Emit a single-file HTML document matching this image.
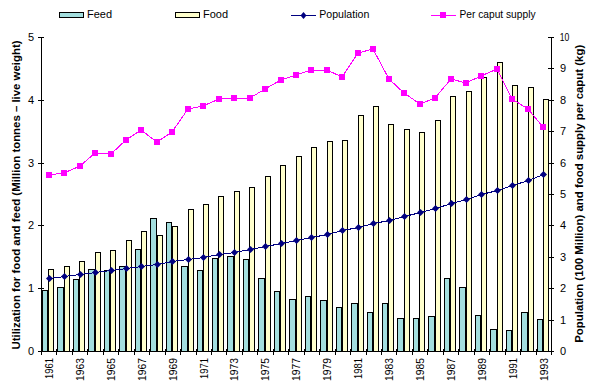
<!DOCTYPE html>
<html><head><meta charset="utf-8"><style>
html,body{margin:0;padding:0;background:#fff;}
svg{display:block;}
.t{font-family:"Liberation Sans",sans-serif;font-size:11px;fill:#000;}
.b{font-family:"Liberation Sans",sans-serif;font-size:11px;font-weight:bold;fill:#000;}
</style></head><body>
<svg width="590" height="385" viewBox="0 0 590 385">
<rect x="0" y="0" width="590" height="385" fill="#fff"/>
<rect x="42" y="290" width="6" height="61" fill="#000"/>
<rect x="43" y="291" width="4" height="60" fill="#a3dede"/>
<rect x="48" y="269" width="6" height="82" fill="#000"/>
<rect x="49" y="270" width="4" height="81" fill="#ffffcc"/>
<rect x="57" y="287" width="7" height="64" fill="#000"/>
<rect x="58" y="288" width="5" height="63" fill="#a3dede"/>
<rect x="64" y="266" width="6" height="85" fill="#000"/>
<rect x="65" y="267" width="4" height="84" fill="#ffffcc"/>
<rect x="73" y="279" width="6" height="72" fill="#000"/>
<rect x="74" y="280" width="4" height="71" fill="#a3dede"/>
<rect x="79" y="261" width="6" height="90" fill="#000"/>
<rect x="80" y="262" width="4" height="89" fill="#ffffcc"/>
<rect x="88" y="269" width="7" height="82" fill="#000"/>
<rect x="89" y="270" width="5" height="81" fill="#a3dede"/>
<rect x="95" y="252" width="6" height="99" fill="#000"/>
<rect x="96" y="253" width="4" height="98" fill="#ffffcc"/>
<rect x="104" y="270" width="6" height="81" fill="#000"/>
<rect x="105" y="271" width="4" height="80" fill="#a3dede"/>
<rect x="110" y="250" width="6" height="101" fill="#000"/>
<rect x="111" y="251" width="4" height="100" fill="#ffffcc"/>
<rect x="119" y="266" width="7" height="85" fill="#000"/>
<rect x="120" y="267" width="5" height="84" fill="#a3dede"/>
<rect x="126" y="240" width="6" height="111" fill="#000"/>
<rect x="127" y="241" width="4" height="110" fill="#ffffcc"/>
<rect x="135" y="249" width="6" height="102" fill="#000"/>
<rect x="136" y="250" width="4" height="101" fill="#a3dede"/>
<rect x="141" y="231" width="6" height="120" fill="#000"/>
<rect x="142" y="232" width="4" height="119" fill="#ffffcc"/>
<rect x="150" y="218" width="7" height="133" fill="#000"/>
<rect x="151" y="219" width="5" height="132" fill="#a3dede"/>
<rect x="157" y="235" width="6" height="116" fill="#000"/>
<rect x="158" y="236" width="4" height="115" fill="#ffffcc"/>
<rect x="166" y="222" width="6" height="129" fill="#000"/>
<rect x="167" y="223" width="4" height="128" fill="#a3dede"/>
<rect x="172" y="226" width="6" height="125" fill="#000"/>
<rect x="173" y="227" width="4" height="124" fill="#ffffcc"/>
<rect x="181" y="266" width="7" height="85" fill="#000"/>
<rect x="182" y="267" width="5" height="84" fill="#a3dede"/>
<rect x="188" y="209" width="6" height="142" fill="#000"/>
<rect x="189" y="210" width="4" height="141" fill="#ffffcc"/>
<rect x="197" y="270" width="6" height="81" fill="#000"/>
<rect x="198" y="271" width="4" height="80" fill="#a3dede"/>
<rect x="203" y="204" width="6" height="147" fill="#000"/>
<rect x="204" y="205" width="4" height="146" fill="#ffffcc"/>
<rect x="212" y="258" width="6" height="93" fill="#000"/>
<rect x="213" y="259" width="4" height="92" fill="#a3dede"/>
<rect x="218" y="196" width="6" height="155" fill="#000"/>
<rect x="219" y="197" width="4" height="154" fill="#ffffcc"/>
<rect x="227" y="256" width="7" height="95" fill="#000"/>
<rect x="228" y="257" width="5" height="94" fill="#a3dede"/>
<rect x="234" y="191" width="6" height="160" fill="#000"/>
<rect x="235" y="192" width="4" height="159" fill="#ffffcc"/>
<rect x="243" y="259" width="6" height="92" fill="#000"/>
<rect x="244" y="260" width="4" height="91" fill="#a3dede"/>
<rect x="249" y="187" width="6" height="164" fill="#000"/>
<rect x="250" y="188" width="4" height="163" fill="#ffffcc"/>
<rect x="258" y="278" width="7" height="73" fill="#000"/>
<rect x="259" y="279" width="5" height="72" fill="#a3dede"/>
<rect x="265" y="176" width="6" height="175" fill="#000"/>
<rect x="266" y="177" width="4" height="174" fill="#ffffcc"/>
<rect x="274" y="291" width="6" height="60" fill="#000"/>
<rect x="275" y="292" width="4" height="59" fill="#a3dede"/>
<rect x="280" y="165" width="6" height="186" fill="#000"/>
<rect x="281" y="166" width="4" height="185" fill="#ffffcc"/>
<rect x="289" y="299" width="7" height="52" fill="#000"/>
<rect x="290" y="300" width="5" height="51" fill="#a3dede"/>
<rect x="296" y="156" width="6" height="195" fill="#000"/>
<rect x="297" y="157" width="4" height="194" fill="#ffffcc"/>
<rect x="305" y="296" width="6" height="55" fill="#000"/>
<rect x="306" y="297" width="4" height="54" fill="#a3dede"/>
<rect x="311" y="147" width="6" height="204" fill="#000"/>
<rect x="312" y="148" width="4" height="203" fill="#ffffcc"/>
<rect x="320" y="300" width="7" height="51" fill="#000"/>
<rect x="321" y="301" width="5" height="50" fill="#a3dede"/>
<rect x="327" y="141" width="6" height="210" fill="#000"/>
<rect x="328" y="142" width="4" height="209" fill="#ffffcc"/>
<rect x="336" y="307" width="6" height="44" fill="#000"/>
<rect x="337" y="308" width="4" height="43" fill="#a3dede"/>
<rect x="342" y="140" width="6" height="211" fill="#000"/>
<rect x="343" y="141" width="4" height="210" fill="#ffffcc"/>
<rect x="351" y="303" width="7" height="48" fill="#000"/>
<rect x="352" y="304" width="5" height="47" fill="#a3dede"/>
<rect x="358" y="115" width="6" height="236" fill="#000"/>
<rect x="359" y="116" width="4" height="235" fill="#ffffcc"/>
<rect x="367" y="312" width="6" height="39" fill="#000"/>
<rect x="368" y="313" width="4" height="38" fill="#a3dede"/>
<rect x="373" y="106" width="6" height="245" fill="#000"/>
<rect x="374" y="107" width="4" height="244" fill="#ffffcc"/>
<rect x="382" y="303" width="6" height="48" fill="#000"/>
<rect x="383" y="304" width="4" height="47" fill="#a3dede"/>
<rect x="388" y="124" width="6" height="227" fill="#000"/>
<rect x="389" y="125" width="4" height="226" fill="#ffffcc"/>
<rect x="397" y="318" width="7" height="33" fill="#000"/>
<rect x="398" y="319" width="5" height="32" fill="#a3dede"/>
<rect x="404" y="129" width="6" height="222" fill="#000"/>
<rect x="405" y="130" width="4" height="221" fill="#ffffcc"/>
<rect x="413" y="318" width="6" height="33" fill="#000"/>
<rect x="414" y="319" width="4" height="32" fill="#a3dede"/>
<rect x="419" y="132" width="6" height="219" fill="#000"/>
<rect x="420" y="133" width="4" height="218" fill="#ffffcc"/>
<rect x="428" y="316" width="7" height="35" fill="#000"/>
<rect x="429" y="317" width="5" height="34" fill="#a3dede"/>
<rect x="435" y="120" width="6" height="231" fill="#000"/>
<rect x="436" y="121" width="4" height="230" fill="#ffffcc"/>
<rect x="444" y="278" width="6" height="73" fill="#000"/>
<rect x="445" y="279" width="4" height="72" fill="#a3dede"/>
<rect x="450" y="96" width="6" height="255" fill="#000"/>
<rect x="451" y="97" width="4" height="254" fill="#ffffcc"/>
<rect x="459" y="287" width="7" height="64" fill="#000"/>
<rect x="460" y="288" width="5" height="63" fill="#a3dede"/>
<rect x="466" y="91" width="6" height="260" fill="#000"/>
<rect x="467" y="92" width="4" height="259" fill="#ffffcc"/>
<rect x="475" y="315" width="6" height="36" fill="#000"/>
<rect x="476" y="316" width="4" height="35" fill="#a3dede"/>
<rect x="481" y="77" width="6" height="274" fill="#000"/>
<rect x="482" y="78" width="4" height="273" fill="#ffffcc"/>
<rect x="490" y="329" width="7" height="22" fill="#000"/>
<rect x="491" y="330" width="5" height="21" fill="#a3dede"/>
<rect x="497" y="62" width="6" height="289" fill="#000"/>
<rect x="498" y="63" width="4" height="288" fill="#ffffcc"/>
<rect x="506" y="330" width="6" height="21" fill="#000"/>
<rect x="507" y="331" width="4" height="20" fill="#a3dede"/>
<rect x="512" y="85" width="6" height="266" fill="#000"/>
<rect x="513" y="86" width="4" height="265" fill="#ffffcc"/>
<rect x="521" y="312" width="7" height="39" fill="#000"/>
<rect x="522" y="313" width="5" height="38" fill="#a3dede"/>
<rect x="528" y="87" width="6" height="264" fill="#000"/>
<rect x="529" y="88" width="4" height="263" fill="#ffffcc"/>
<rect x="537" y="319" width="6" height="32" fill="#000"/>
<rect x="538" y="320" width="4" height="31" fill="#a3dede"/>
<rect x="543" y="99" width="6" height="252" fill="#000"/>
<rect x="544" y="100" width="4" height="251" fill="#ffffcc"/>
<rect x="41" y="37" width="1" height="315" fill="#000"/>
<rect x="551" y="37" width="1" height="315" fill="#000"/>
<rect x="41" y="351" width="511" height="1" fill="#000"/>
<rect x="38" y="351" width="6" height="1" fill="#000"/>
<rect x="38" y="288" width="6" height="1" fill="#000"/>
<rect x="38" y="225" width="6" height="1" fill="#000"/>
<rect x="38" y="163" width="6" height="1" fill="#000"/>
<rect x="38" y="100" width="6" height="1" fill="#000"/>
<rect x="38" y="37" width="6" height="1" fill="#000"/>
<rect x="548" y="351" width="6" height="1" fill="#000"/>
<rect x="548" y="320" width="6" height="1" fill="#000"/>
<rect x="548" y="288" width="6" height="1" fill="#000"/>
<rect x="548" y="257" width="6" height="1" fill="#000"/>
<rect x="548" y="225" width="6" height="1" fill="#000"/>
<rect x="548" y="194" width="6" height="1" fill="#000"/>
<rect x="548" y="163" width="6" height="1" fill="#000"/>
<rect x="548" y="131" width="6" height="1" fill="#000"/>
<rect x="548" y="100" width="6" height="1" fill="#000"/>
<rect x="548" y="68" width="6" height="1" fill="#000"/>
<rect x="548" y="37" width="6" height="1" fill="#000"/>
<rect x="41" y="349" width="1" height="6" fill="#000"/>
<rect x="56" y="349" width="1" height="6" fill="#000"/>
<rect x="72" y="349" width="1" height="6" fill="#000"/>
<rect x="87" y="349" width="1" height="6" fill="#000"/>
<rect x="103" y="349" width="1" height="6" fill="#000"/>
<rect x="118" y="349" width="1" height="6" fill="#000"/>
<rect x="134" y="349" width="1" height="6" fill="#000"/>
<rect x="149" y="349" width="1" height="6" fill="#000"/>
<rect x="165" y="349" width="1" height="6" fill="#000"/>
<rect x="180" y="349" width="1" height="6" fill="#000"/>
<rect x="196" y="349" width="1" height="6" fill="#000"/>
<rect x="211" y="349" width="1" height="6" fill="#000"/>
<rect x="226" y="349" width="1" height="6" fill="#000"/>
<rect x="242" y="349" width="1" height="6" fill="#000"/>
<rect x="257" y="349" width="1" height="6" fill="#000"/>
<rect x="273" y="349" width="1" height="6" fill="#000"/>
<rect x="288" y="349" width="1" height="6" fill="#000"/>
<rect x="304" y="349" width="1" height="6" fill="#000"/>
<rect x="319" y="349" width="1" height="6" fill="#000"/>
<rect x="335" y="349" width="1" height="6" fill="#000"/>
<rect x="350" y="349" width="1" height="6" fill="#000"/>
<rect x="366" y="349" width="1" height="6" fill="#000"/>
<rect x="381" y="349" width="1" height="6" fill="#000"/>
<rect x="396" y="349" width="1" height="6" fill="#000"/>
<rect x="412" y="349" width="1" height="6" fill="#000"/>
<rect x="427" y="349" width="1" height="6" fill="#000"/>
<rect x="443" y="349" width="1" height="6" fill="#000"/>
<rect x="458" y="349" width="1" height="6" fill="#000"/>
<rect x="474" y="349" width="1" height="6" fill="#000"/>
<rect x="489" y="349" width="1" height="6" fill="#000"/>
<rect x="505" y="349" width="1" height="6" fill="#000"/>
<rect x="520" y="349" width="1" height="6" fill="#000"/>
<rect x="536" y="349" width="1" height="6" fill="#000"/>
<rect x="551" y="349" width="1" height="6" fill="#000"/>
<polyline points="49.5,278.5 64.5,276.5 80.5,274.5 95.5,272.5 111.5,270.5 126.5,268.5 141.5,266.5 157.5,264.5 172.5,261.5 188.5,259.5 203.5,257.5 219.5,254.5 234.5,252.5 250.5,249.5 265.5,246.5 281.5,243.5 296.5,240.5 311.5,237.5 327.5,234.5 342.5,230.5 358.5,227.5 373.5,223.5 389.5,220.5 404.5,216.5 420.5,212.5 435.5,208.5 451.5,203.5 466.5,199.5 481.5,194.5 497.5,190.5 512.5,185.5 528.5,180.5 543.5,174.5" fill="none" stroke="#000080" stroke-width="1" shape-rendering="crispEdges"/>
<polyline points="49,175 64,173 80,166 95,153 111,154 126,140 141,130 157,142 172,132 188,109 203,106 219,99 234,98 250,98 265,89 281,80 296,75 311,70 327,70 342,77 358,53 373,49 389,79 404,93 420,104 435,98 451,79 466,83 481,76 497,69 512,99 528,109 543,127" fill="none" stroke="#ff00ff" stroke-width="1" shape-rendering="crispEdges"/>
<path d="M49.5 275.0L53.0 278.5L49.5 282.0L46.0 278.5Z" fill="#000080"/>
<path d="M64.5 273.0L68.0 276.5L64.5 280.0L61.0 276.5Z" fill="#000080"/>
<path d="M80.5 271.0L84.0 274.5L80.5 278.0L77.0 274.5Z" fill="#000080"/>
<path d="M95.5 269.0L99.0 272.5L95.5 276.0L92.0 272.5Z" fill="#000080"/>
<path d="M111.5 267.0L115.0 270.5L111.5 274.0L108.0 270.5Z" fill="#000080"/>
<path d="M126.5 265.0L130.0 268.5L126.5 272.0L123.0 268.5Z" fill="#000080"/>
<path d="M141.5 263.0L145.0 266.5L141.5 270.0L138.0 266.5Z" fill="#000080"/>
<path d="M157.5 261.0L161.0 264.5L157.5 268.0L154.0 264.5Z" fill="#000080"/>
<path d="M172.5 258.0L176.0 261.5L172.5 265.0L169.0 261.5Z" fill="#000080"/>
<path d="M188.5 256.0L192.0 259.5L188.5 263.0L185.0 259.5Z" fill="#000080"/>
<path d="M203.5 254.0L207.0 257.5L203.5 261.0L200.0 257.5Z" fill="#000080"/>
<path d="M219.5 251.0L223.0 254.5L219.5 258.0L216.0 254.5Z" fill="#000080"/>
<path d="M234.5 249.0L238.0 252.5L234.5 256.0L231.0 252.5Z" fill="#000080"/>
<path d="M250.5 246.0L254.0 249.5L250.5 253.0L247.0 249.5Z" fill="#000080"/>
<path d="M265.5 243.0L269.0 246.5L265.5 250.0L262.0 246.5Z" fill="#000080"/>
<path d="M281.5 240.0L285.0 243.5L281.5 247.0L278.0 243.5Z" fill="#000080"/>
<path d="M296.5 237.0L300.0 240.5L296.5 244.0L293.0 240.5Z" fill="#000080"/>
<path d="M311.5 234.0L315.0 237.5L311.5 241.0L308.0 237.5Z" fill="#000080"/>
<path d="M327.5 231.0L331.0 234.5L327.5 238.0L324.0 234.5Z" fill="#000080"/>
<path d="M342.5 227.0L346.0 230.5L342.5 234.0L339.0 230.5Z" fill="#000080"/>
<path d="M358.5 224.0L362.0 227.5L358.5 231.0L355.0 227.5Z" fill="#000080"/>
<path d="M373.5 220.0L377.0 223.5L373.5 227.0L370.0 223.5Z" fill="#000080"/>
<path d="M389.5 217.0L393.0 220.5L389.5 224.0L386.0 220.5Z" fill="#000080"/>
<path d="M404.5 213.0L408.0 216.5L404.5 220.0L401.0 216.5Z" fill="#000080"/>
<path d="M420.5 209.0L424.0 212.5L420.5 216.0L417.0 212.5Z" fill="#000080"/>
<path d="M435.5 205.0L439.0 208.5L435.5 212.0L432.0 208.5Z" fill="#000080"/>
<path d="M451.5 200.0L455.0 203.5L451.5 207.0L448.0 203.5Z" fill="#000080"/>
<path d="M466.5 196.0L470.0 199.5L466.5 203.0L463.0 199.5Z" fill="#000080"/>
<path d="M481.5 191.0L485.0 194.5L481.5 198.0L478.0 194.5Z" fill="#000080"/>
<path d="M497.5 187.0L501.0 190.5L497.5 194.0L494.0 190.5Z" fill="#000080"/>
<path d="M512.5 182.0L516.0 185.5L512.5 189.0L509.0 185.5Z" fill="#000080"/>
<path d="M528.5 177.0L532.0 180.5L528.5 184.0L525.0 180.5Z" fill="#000080"/>
<path d="M543.5 171.0L547.0 174.5L543.5 178.0L540.0 174.5Z" fill="#000080"/>
<rect x="46" y="172" width="6" height="6" fill="#ff00ff"/>
<rect x="61" y="170" width="6" height="6" fill="#ff00ff"/>
<rect x="77" y="163" width="6" height="6" fill="#ff00ff"/>
<rect x="92" y="150" width="6" height="6" fill="#ff00ff"/>
<rect x="108" y="151" width="6" height="6" fill="#ff00ff"/>
<rect x="123" y="137" width="6" height="6" fill="#ff00ff"/>
<rect x="138" y="127" width="6" height="6" fill="#ff00ff"/>
<rect x="154" y="139" width="6" height="6" fill="#ff00ff"/>
<rect x="169" y="129" width="6" height="6" fill="#ff00ff"/>
<rect x="185" y="106" width="6" height="6" fill="#ff00ff"/>
<rect x="200" y="103" width="6" height="6" fill="#ff00ff"/>
<rect x="216" y="96" width="6" height="6" fill="#ff00ff"/>
<rect x="231" y="95" width="6" height="6" fill="#ff00ff"/>
<rect x="247" y="95" width="6" height="6" fill="#ff00ff"/>
<rect x="262" y="86" width="6" height="6" fill="#ff00ff"/>
<rect x="278" y="77" width="6" height="6" fill="#ff00ff"/>
<rect x="293" y="72" width="6" height="6" fill="#ff00ff"/>
<rect x="308" y="67" width="6" height="6" fill="#ff00ff"/>
<rect x="324" y="67" width="6" height="6" fill="#ff00ff"/>
<rect x="339" y="74" width="6" height="6" fill="#ff00ff"/>
<rect x="355" y="50" width="6" height="6" fill="#ff00ff"/>
<rect x="370" y="46" width="6" height="6" fill="#ff00ff"/>
<rect x="386" y="76" width="6" height="6" fill="#ff00ff"/>
<rect x="401" y="90" width="6" height="6" fill="#ff00ff"/>
<rect x="417" y="101" width="6" height="6" fill="#ff00ff"/>
<rect x="432" y="95" width="6" height="6" fill="#ff00ff"/>
<rect x="448" y="76" width="6" height="6" fill="#ff00ff"/>
<rect x="463" y="80" width="6" height="6" fill="#ff00ff"/>
<rect x="478" y="73" width="6" height="6" fill="#ff00ff"/>
<rect x="494" y="66" width="6" height="6" fill="#ff00ff"/>
<rect x="509" y="96" width="6" height="6" fill="#ff00ff"/>
<rect x="525" y="106" width="6" height="6" fill="#ff00ff"/>
<rect x="540" y="124" width="6" height="6" fill="#ff00ff"/>
<text x="34" y="355.0" text-anchor="end" class="t">0</text>
<text x="34" y="292.2" text-anchor="end" class="t">1</text>
<text x="34" y="229.4" text-anchor="end" class="t">2</text>
<text x="34" y="166.6" text-anchor="end" class="t">3</text>
<text x="34" y="103.8" text-anchor="end" class="t">4</text>
<text x="34" y="41.0" text-anchor="end" class="t">5</text>
<text x="560" y="355.0" class="t">0</text>
<text x="560" y="323.6" class="t">1</text>
<text x="560" y="292.2" class="t">2</text>
<text x="560" y="260.8" class="t">3</text>
<text x="560" y="229.4" class="t">4</text>
<text x="560" y="198.0" class="t">5</text>
<text x="560" y="166.6" class="t">6</text>
<text x="560" y="135.2" class="t">7</text>
<text x="560" y="103.8" class="t">8</text>
<text x="560" y="72.4" class="t">9</text>
<text x="559.8" y="41.0" textLength="9.6" lengthAdjust="spacingAndGlyphs" class="t">10</text>
<text transform="translate(52.9,378.9) rotate(-90)" textLength="21" lengthAdjust="spacingAndGlyphs" class="t">1961</text>
<text transform="translate(83.8,380.9) rotate(-90)" textLength="23" lengthAdjust="spacingAndGlyphs" class="t">1963</text>
<text transform="translate(114.7,380.9) rotate(-90)" textLength="23" lengthAdjust="spacingAndGlyphs" class="t">1965</text>
<text transform="translate(145.7,380.9) rotate(-90)" textLength="23" lengthAdjust="spacingAndGlyphs" class="t">1967</text>
<text transform="translate(176.6,380.9) rotate(-90)" textLength="23" lengthAdjust="spacingAndGlyphs" class="t">1969</text>
<text transform="translate(207.5,378.9) rotate(-90)" textLength="21" lengthAdjust="spacingAndGlyphs" class="t">1971</text>
<text transform="translate(238.4,380.9) rotate(-90)" textLength="23" lengthAdjust="spacingAndGlyphs" class="t">1973</text>
<text transform="translate(269.3,380.9) rotate(-90)" textLength="23" lengthAdjust="spacingAndGlyphs" class="t">1975</text>
<text transform="translate(300.2,380.9) rotate(-90)" textLength="23" lengthAdjust="spacingAndGlyphs" class="t">1977</text>
<text transform="translate(331.1,380.9) rotate(-90)" textLength="23" lengthAdjust="spacingAndGlyphs" class="t">1979</text>
<text transform="translate(362.0,378.9) rotate(-90)" textLength="21" lengthAdjust="spacingAndGlyphs" class="t">1981</text>
<text transform="translate(392.9,380.9) rotate(-90)" textLength="23" lengthAdjust="spacingAndGlyphs" class="t">1983</text>
<text transform="translate(423.8,380.9) rotate(-90)" textLength="23" lengthAdjust="spacingAndGlyphs" class="t">1985</text>
<text transform="translate(454.7,380.9) rotate(-90)" textLength="23" lengthAdjust="spacingAndGlyphs" class="t">1987</text>
<text transform="translate(485.7,380.9) rotate(-90)" textLength="23" lengthAdjust="spacingAndGlyphs" class="t">1989</text>
<text transform="translate(516.6,378.9) rotate(-90)" textLength="21" lengthAdjust="spacingAndGlyphs" class="t">1991</text>
<text transform="translate(547.5,380.9) rotate(-90)" textLength="23" lengthAdjust="spacingAndGlyphs" class="t">1993</text>
<text transform="translate(20,349.5) rotate(-90)" textLength="309" lengthAdjust="spacingAndGlyphs" class="b">Utilization for food and feed (Million tonnes &#8211; live weight)</text>
<text transform="translate(583,342.8) rotate(-90)" textLength="298" lengthAdjust="spacingAndGlyphs" class="b">Population (100 Million) and food supply per caput (kg)</text>
<rect x="59" y="12" width="25" height="6" fill="#000"/><rect x="60" y="13" width="23" height="4" fill="#a3dede"/>
<text x="87" y="18" class="t">Feed</text>
<rect x="175" y="12" width="25" height="6" fill="#000"/><rect x="176" y="13" width="23" height="4" fill="#ffffcc"/>
<text x="203" y="18" class="t">Food</text>
<rect x="291" y="15" width="25" height="1" fill="#000080"/>
<path d="M303.5 12L306.5 15.5L303.5 19L300.5 15.5Z" fill="#000080"/>
<text x="319.3" y="18" textLength="50" lengthAdjust="spacingAndGlyphs" class="t">Population</text>
<rect x="431" y="15" width="25" height="1" fill="#ff00ff"/>
<rect x="440" y="12" width="6" height="6" fill="#ff00ff"/>
<text x="459.5" y="18" textLength="76" lengthAdjust="spacingAndGlyphs" class="t">Per caput supply</text>
</svg>
</body></html>
